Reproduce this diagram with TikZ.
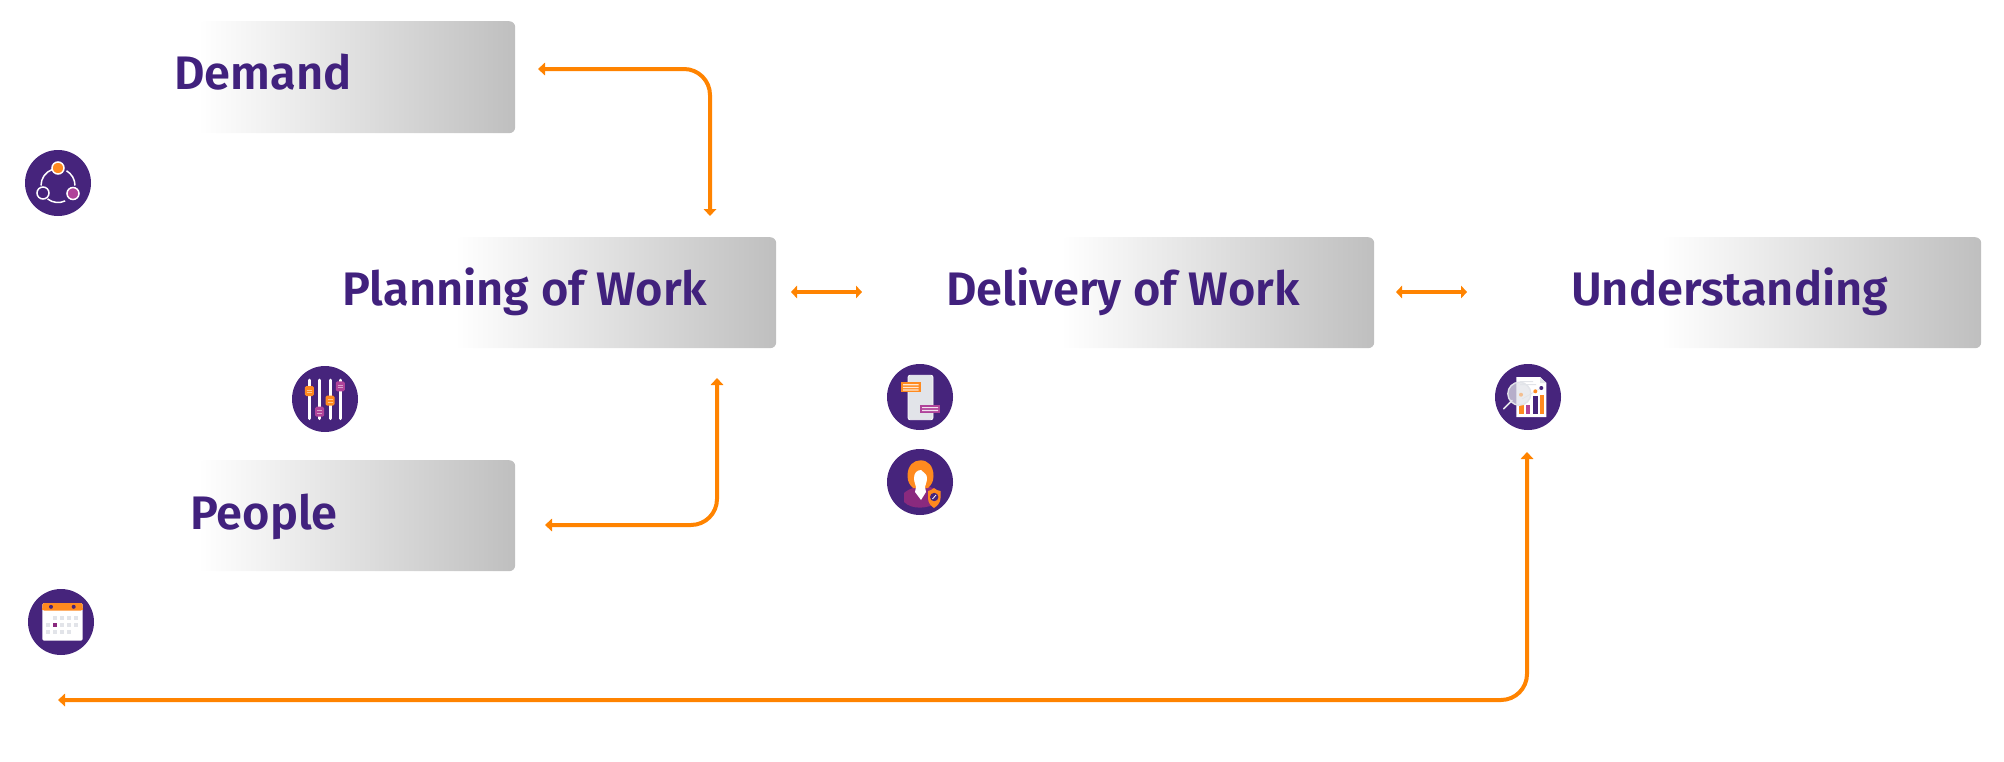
\documentclass[tikz,border=0pt]{standalone}
\usepackage{fontspec}
\setmainfont{Fira Sans SemiBold}
\usetikzlibrary{arrows.meta}
\definecolor{ipurple}{HTML}{46247C}
\definecolor{txtpurple}{HTML}{41217D}
\definecolor{iorange}{HTML}{FF8A1F}
\definecolor{imag}{HTML}{B0439A}
\definecolor{idark}{HTML}{8A2A7E}
\definecolor{lineor}{HTML}{FF8300}
\definecolor{igray}{HTML}{E2E4E9}
\definecolor{boxgray}{HTML}{BFBFBF}
\tikzset{
  gbox/.style={rectangle,rounded corners=6pt,left color=white,right color=boxgray,draw=none,inner sep=0pt,anchor=north west},
  lab/.style={anchor=base west,inner sep=0pt,text=txtpurple,font=\fontsize{47}{50}\selectfont},
  conn/.style={draw=lineor,line width=4pt,rounded corners=26pt,{Triangle[width=12.5pt,length=7pt]}-{Triangle[width=12.5pt,length=7pt]}},
  shortconn/.style={draw=lineor,line width=4pt,{Triangle[width=12.5pt,length=6pt]}-{Triangle[width=12.5pt,length=6pt]}},
  icon/.style={circle,fill=ipurple,minimum size=66pt,inner sep=0pt,draw=none},
  wline/.style={draw=white,line width=1.5pt},
}
\begin{document}
\begin{tikzpicture}[x=1pt,y=-1pt]
\useasboundingbox (0,0) rectangle (2004,761);
% boxes
\node[gbox,minimum width=317pt,minimum height=112pt] (demandbox) at (198,21) {};
\node[gbox,minimum width=321pt,minimum height=111pt] (planningbox) at (455,237) {};
\node[gbox,minimum width=313pt,minimum height=111pt] (deliverybox) at (1061,237) {};
\node[gbox,minimum width=320pt,minimum height=111pt] (understandingbox) at (1661,237) {};
\node[gbox,minimum width=317pt,minimum height=111pt] (peoplebox) at (198,460) {};
% labels
\node[lab] (demand) at (174,89) {Demand};
\node[lab] (planning) at (342,305) {Planning of Work};
\node[lab] (delivery) at (946,305) {Delivery of Work};
\node[lab] (understanding) at (1571,305) {Understanding};
\node[lab] (people) at (190,529) {People};
% connector ends
\coordinate (a1) at (538,69);
\coordinate (a2) at (710,216);
\coordinate (b1) at (717,378);
\coordinate (b2) at (545,525);
\coordinate (c1) at (791,292);
\coordinate (c2) at (862,292);
\coordinate (d1) at (1396,292);
\coordinate (d2) at (1467,292);
\coordinate (e1) at (1527,452);
\coordinate (e2) at (58,700);
\draw[conn] (a1) -| (a2);
\draw[conn] (b1) |- (b2);
\draw[conn] (e1) |- (e2);
\draw[shortconn] (c1) -- (c2);
\draw[shortconn] (d1) -- (d2);
% icon 1
\node[icon] (iconA) at (58,183) {};
\begin{scope}[shift={(iconA.center)}]
  \draw[wline] ([shift={(180:17pt)}]0,2.5) arc[start angle=180,end angle=110,radius=17pt];
  \draw[wline] ([shift={(60:17pt)}]0,2.5) arc[start angle=60,end angle=0,radius=17pt];
  \draw[wline] ([shift={(232:17pt)}]0,2.5) arc[start angle=232,end angle=295,radius=17pt];
  \draw[wline,fill=iorange] (0,-15) circle[radius=6pt];
  \draw[wline,fill=imag] (15,10.5) circle[radius=6pt];
  \draw[wline,fill=ipurple] (-15,10) circle[radius=6pt];
\end{scope}
% icon 2
\node[icon] (iconB) at (325,399) {};
\begin{scope}[shift={(iconB.center)}]
  \foreach \xx in {-15.7,-5.3,5,15.3} \draw[draw=white,line width=3pt,line cap=round] (\xx,-19) -- (\xx,19.5);
  \foreach \xx/\yy/\cc in {-15.7/-8/iorange,-5.3/12.7/imag,5/1.7/iorange,15.3/-12.7/imag}{
    \fill[\cc,rounded corners=1.5pt] (\xx-4.5,\yy-5) rectangle (\xx+4.5,\yy+5);
    \draw[draw=white,opacity=.5,line width=.6pt] (\xx-2.5,\yy-1.2) -- (\xx+2.5,\yy-1.2) (\xx-2.5,\yy+1.2) -- (\xx+2.5,\yy+1.2);
  }
\end{scope}
% icon 3
\node[icon] (iconC) at (920,397) {};
\begin{scope}[shift={(iconC.center)}]
  \draw[draw=white,line width=.8pt,fill=igray,rounded corners=2pt] (-12,-21.7) rectangle (13,22.7);
  \fill[iorange] (-19.3,-14.7) rectangle (0.7,-4.7);
  \fill[white,opacity=.8] (-17,-12.8) rectangle (-1.5,-11.6) (-17,-10.2) rectangle (-1.5,-9) (-17,-7.6) rectangle (-1.5,-6.4);
  \fill[imag] (0,8.3) rectangle (20,16);
  \fill[white,opacity=.85] (2.2,10) rectangle (18,11.2) (2.2,12.8) rectangle (18,14);
\end{scope}
% icon 4
\node[icon] (iconD) at (920,482) {};
\begin{scope}[shift={(iconD.center)}]
  \fill[idark] (-16,11) .. controls (-10,6) and (-6,6) .. (-4,5) -- (10,5) .. controls (14,6) and (18,8) .. (19,14) -- (19,20) .. controls (8,27) and (-8,28) .. (-16,20) -- cycle;
  \fill[iorange] (-12.5,-6) .. controls (-12.5,-17) and (-6,-21.7) .. (0.5,-21.7) .. controls (8,-21.7) and (13.5,-16) .. (13.5,-6) .. controls (13.5,0) and (11,3) .. (8,6) -- (-7,6) .. controls (-10,3) and (-12.5,0) .. (-12.5,-6) -- cycle;
  \fill[white] (-6,-4) .. controls (-6,-9) and (-3,-12) .. (1,-12) .. controls (4,-9) and (7,-8) .. (7,-4) .. controls (7,1) and (5,3) .. (5,5) -- (6,10) -- (1,18) -- (-5,10) -- (-4,5) .. controls (-4,3) and (-6,1) .. (-6,-4) -- cycle;
  \fill[iorange] (14,6) .. controls (16,8) and (18,8.5) .. (20.5,9) -- (20.5,16) .. controls (20.5,21) and (17,24) .. (14,26) .. controls (11,24) and (8,21) .. (8,16) -- (8,9) .. controls (10,8.5) and (12,8) .. (14,6) -- cycle;
  \fill[ipurple] (14.2,15) circle[radius=4.2pt];
  \draw[draw=white,line width=.8pt] (12.5,17) -- (16,13);
\end{scope}
% icon 5
\node[icon] (iconE) at (1528,397) {};
\begin{scope}[shift={(iconE.center)}]
  \fill[white] (-11.7,-20) -- (12,-20) -- (18.3,-14) -- (18.3,20) -- (-11.7,20) -- cycle;
  \fill[igray] (12,-20) -- (12,-14) -- (18.3,-14) -- cycle;
  \fill[igray] (-8,-16) rectangle (5,-15) (-8,-13) rectangle (8,-12);
  \fill[iorange] (-8.7,8.3) rectangle (-4.3,16.7);
  \fill[imag] (-1.7,7.7) rectangle (2.3,16.7);
  \fill[ipurple] (5,-1) rectangle (9.7,16.7);
  \fill[iorange] (11.7,-1.7) rectangle (15.7,16.7);
  \draw[draw=igray,line width=.7pt] (-6,2) -- (7,-5.5) -- (13,-9);
  \fill[iorange] (7.3,-5.7) circle[radius=2pt];
  \fill[ipurple] (13.3,-9) circle[radius=2pt];
  \draw[draw=igray,line width=1.6pt,line cap=round] (-16,3.5) -- (-24.3,11.7);
  \draw[draw=igray,line width=1.4pt,fill=igray,fill opacity=.72] (-8.7,-3.3) circle[radius=11.5pt];
  \fill[iorange,opacity=.45] (-7,-2.3) circle[radius=2pt];
\end{scope}
% icon 6
\node[icon] (iconF) at (61,622) {};
\begin{scope}[shift={(iconF.center)}]
  \fill[white,rounded corners=1.5pt] (-18.7,-19) rectangle (21.7,18.7);
  \fill[iorange,rounded corners=1.5pt] (-18.7,-19) rectangle (21.7,-11.5);
  \fill[iorange] (-18.7,-14) rectangle (21.7,-11.7);
  \fill[ipurple] (-10,-15.2) circle[radius=2pt] (12.7,-15.2) circle[radius=2pt];
  \foreach \xx in {-6,1,8,15} \fill[igray] (\xx-2,-6.2) rectangle (\xx+2,-2.2);
  \foreach \xx in {-13,1,8,15} \fill[igray] (\xx-2,0.6) rectangle (\xx+2,4.6);
  \fill[idark] (-8,0.6) rectangle (-4,4.6);
  \foreach \xx in {-13,-6,1,8} \fill[igray] (\xx-2,7.6) rectangle (\xx+2,11.6);
\end{scope}
\end{tikzpicture}
\end{document}
